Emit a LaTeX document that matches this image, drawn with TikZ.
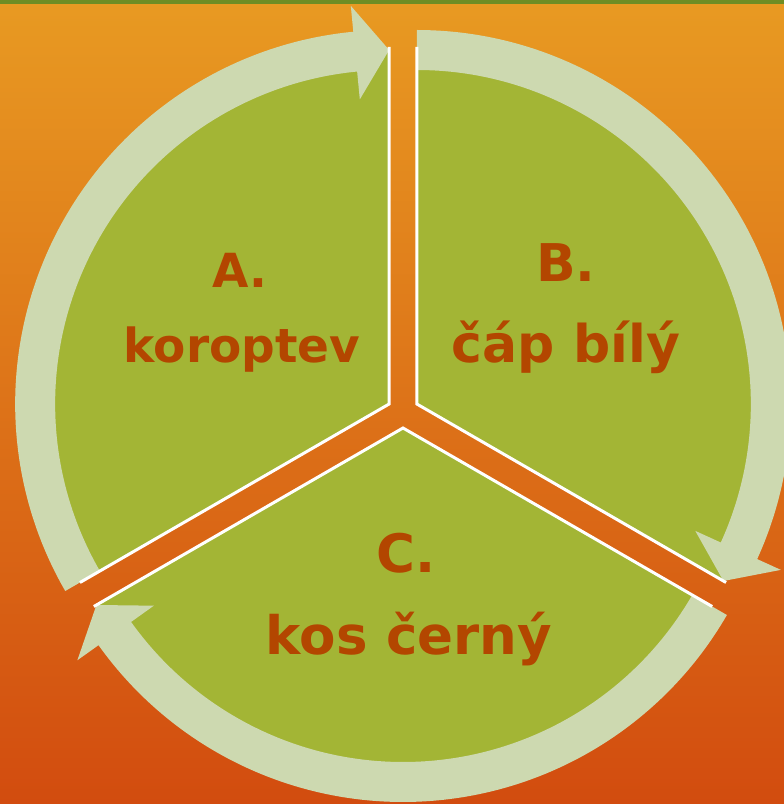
\documentclass[tikz,border=0pt]{standalone}
\usepackage{fontspec}
\setmainfont{DejaVu Sans}
\usetikzlibrary{calc}
\definecolor{leaf}{HTML}{A3B535}
\definecolor{pale}{HTML}{CDD9B0}
\definecolor{rust}{HTML}{B34600}
\definecolor{topstripe}{HTML}{6F8D24}
\definecolor{orangetop}{HTML}{E89A22}
\definecolor{orangemid}{HTML}{DF7A1B}
\definecolor{orangebot}{HTML}{D24C0F}
\tikzset{
  wedge/.style = {fill=leaf},
  band/.style = {fill=pale},
  rim/.style = {draw=white, line width=3pt, line join=miter},
  lbl/.style = {text=rust, anchor=base, inner sep=0pt},
}

\begin{document}
\begin{tikzpicture}[x=1pt, y=1pt]
    \useasboundingbox (0,0) rectangle (784,804);

    % Background
    \shade[top color=orangetop, middle color=orangemid, bottom color=orangebot] (0,0) rectangle (784,804);
    \fill[topstripe] (0,800) rectangle (784,804);

    % Sector apices, pushed out from the centre along their bisectors
    \coordinate (ctr) at (403,392);
    \coordinate (apA) at ($(ctr)+(150:16pt)$);
    \coordinate (apB) at ($(ctr)+(30:16pt)$);
    \coordinate (apC) at ($(ctr)+(270:16pt)$);

    % Wedges
    \fill[wedge] (apA) -- ($(apA)+(90:355pt)$) arc[start angle=90, end angle=210, radius=355pt] -- cycle;
    \fill[wedge] (apB) -- ($(apB)+(-30:355pt)$) arc[start angle=-30, end angle=90, radius=355pt] -- cycle;
    \fill[wedge] (apC) -- ($(apC)+(210:355pt)$) arc[start angle=210, end angle=330, radius=355pt] -- cycle;

    % Curved arrows (clockwise)
    \fill[band] ($(apA)+(210:334pt)$) arc[start angle=210, end angle=95.5, radius=334pt]
      -- ($(apA)+(95.5:306pt)$) -- ($(apA)+(90:354pt)$) -- ($(apA)+(95.5:400pt)$)
      -- ($(apA)+(95.5:374pt)$) arc[start angle=95.5, end angle=210, radius=374pt] -- cycle;
    \fill[band] ($(apB)+(90:334pt)$) arc[start angle=90, end angle=-24.5, radius=334pt]
      -- ($(apB)+(-24.5:306pt)$) -- ($(apB)+(-30:354pt)$) -- ($(apB)+(-24.5:400pt)$)
      -- ($(apB)+(-24.5:374pt)$) arc[start angle=-24.5, end angle=90, radius=374pt] -- cycle;
    \fill[band] ($(apC)+(-30:334pt)$) arc[start angle=-30, end angle=-144.5, radius=334pt]
      -- ($(apC)+(-144.5:306pt)$) -- ($(apC)+(-150:354pt)$) -- ($(apC)+(-144.5:400pt)$)
      -- ($(apC)+(-144.5:374pt)$) arc[start angle=-144.5, end angle=-30, radius=374pt] -- cycle;

    % White straight edges
    \draw[rim] ($(apA)+(90:357pt)$) -- (apA) -- ($(apA)+(210:357pt)$);
    \draw[rim] ($(apB)+(90:357pt)$) -- (apB) -- ($(apB)+(-30:357pt)$);
    \draw[rim] ($(apC)+(210:357pt)$) -- (apC) -- ($(apC)+(-30:357pt)$);

    % Labels
    \node[lbl, font=\fontsize{47pt}{56pt}\selectfont\bfseries] (labA) at (240,516) {A.};
    \node[lbl, font=\fontsize{47pt}{56pt}\selectfont\bfseries] (nameA) at (242,441) {koroptev};
    \node[lbl, font=\fontsize{52pt}{62pt}\selectfont\bfseries] (labB) at (566,522) {B.};
    \node[lbl, font=\fontsize{52pt}{62pt}\selectfont\bfseries] (nameB) at (566,441) {čáp bílý};
    \node[lbl, font=\fontsize{53pt}{64pt}\selectfont\bfseries] (labC) at (406,231) {C.};
    \node[lbl, font=\fontsize{53pt}{64pt}\selectfont\bfseries] (nameC) at (409,149) {kos černý};
  \end{tikzpicture}
\end{document}
